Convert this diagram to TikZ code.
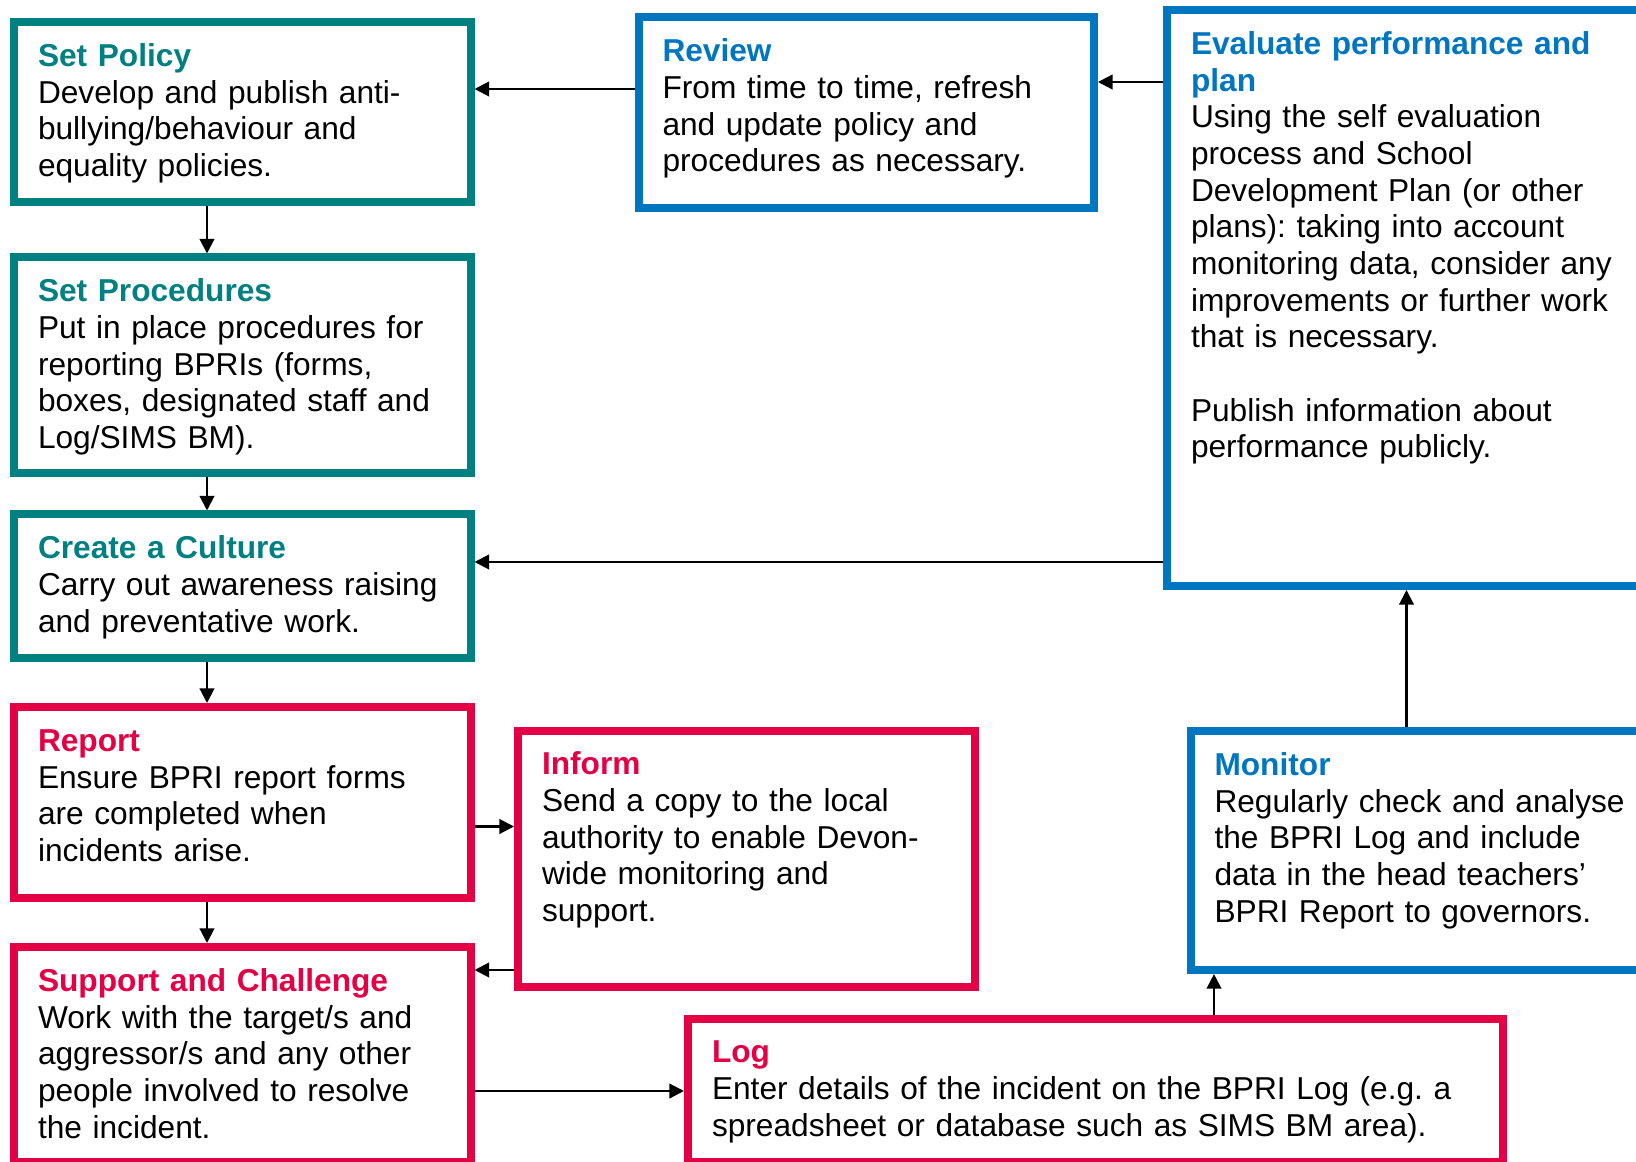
\documentclass[tikz,border=0pt]{standalone}
\usepackage{fontspec}
\setmainfont{Liberation Sans}
\usetikzlibrary{arrows.meta}
\definecolor{tealc}{RGB}{0,128,128}
\definecolor{bluec}{RGB}{0,118,192}
\definecolor{redc}{RGB}{228,0,68}
\tikzset{
  box/.style={draw=#1, line width=6pt, anchor=north west, inner xsep=18pt, inner ysep=0pt,
    align=left, text height=33.3pt, font=\fontsize{23.75}{27.5}\selectfont\frenchspacing},
  arr/.style={-{Triangle[length=11pt,width=11pt]}, line width=1.6pt, draw=black}
}
\newcommand{\ttl}[2]{{\color{#1}\bfseries #2}}
\begin{document}
\begin{tikzpicture}[x=0.75pt,y=-0.75pt]
\useasboundingbox (0,0) rectangle (1636,1162);
\clip (0,0) rectangle (1636,1162);
% left column
\node[box=tealc, text width=306.4pt, text depth=101.7pt] (SP) at (10,18)
  {\ttl{tealc}{Set Policy}\\Develop and publish anti-\\bullying/behaviour and\\equality policies.};
\node[box=tealc, text width=306.4pt, text depth=128.35pt] (PR) at (10,253.5)
  {\ttl{tealc}{Set Procedures}\\Put in place procedures for\\reporting BPRIs (forms,\\boxes, designated staff and\\Log/SIMS BM).};
\node[box=tealc, text width=306.4pt, text depth=74.35pt] (CU) at (10,510.5)
  {\ttl{tealc}{Create a Culture}\\Carry out awareness raising\\and preventative work.};
\node[box=redc, text width=306.4pt, text depth=110pt] (RE) at (10,703)
  {\ttl{redc}{Report}\\Ensure BPRI report forms\\are completed when\\incidents arise.};
\node[box=redc, text width=306.4pt, text depth=128pt] (SC) at (10,943)
  {\ttl{redc}{Support and Challenge}\\Work with the target/s and\\aggressor/s and any other\\people involved to resolve\\the incident.};
% top
\node[box=bluec, text width=305.6pt, text depth=109.6pt] (RV) at (634.5,13.5)
  {\ttl{bluec}{Review}\\From time to time, refresh\\and update policy and\\procedures as necessary.};
\node[box=bluec, text width=363.75pt, text depth=398.7pt] (EV) at (1163,6)
  {\ttl{bluec}{Evaluate performance and}\\\ttl{bluec}{plan}\\Using the self evaluation\\process and School\\Development Plan (or other\\plans): taking into account\\monitoring data, consider any\\improvements or further work\\that is necessary.\\[27.5pt]Publish information about\\performance publicly.};
% lower middle / right
\node[box=redc, text width=306.4pt, text depth=158.7pt] (IN) at (514,726.5)
  {\ttl{redc}{Inform}\\Send a copy to the local\\authority to enable Devon-\\wide monitoring and\\support.};
\node[box=bluec, text width=346pt, text depth=146pt] (MO) at (1186.5,727)
  {\ttl{bluec}{Monitor}\\Regularly check and analyse\\the BPRI Log and include\\data in the head teachers'\\BPRI Report to governors.};
\node[box=redc, text width=575pt, text depth=74.35pt] (LO) at (684,1014.5)
  {\ttl{redc}{Log}\\Enter details of the incident on the BPRI Log (e.g. a\\spreadsheet or database such as SIMS BM area).};
% connectors
\draw[arr] (RV.west |- 0,89) -- (SP.east |- 0,89);
\draw[arr] (EV.west |- 0,82) -- (RV.east |- 0,82);
\draw[arr] (SP.south -| 207,0) -- (PR.north -| 207,0);
\draw[arr] (PR.south -| 207,0) -- (CU.north -| 207,0);
\draw[arr] (EV.west |- 0,562) -- (CU.east |- 0,562);
\draw[arr] (CU.south -| 207,0) -- (RE.north -| 207,0);
\draw[arr] (RE.east |- 0,826.5) -- (IN.west |- 0,826.5);
\draw[arr] (RE.south -| 207,0) -- (SC.north -| 207,0);
\draw[arr] (IN.west |- 0,970) -- (SC.east |- 0,970);
\draw[arr] (SC.east |- 0,1091) -- (LO.west |- 0,1091);
\draw[arr] (LO.north -| 1214,0) -- (MO.south -| 1214,0);
\draw[arr] (MO.north -| 1406.5,0) -- (EV.south -| 1406.5,0);
\end{tikzpicture}
\end{document}
